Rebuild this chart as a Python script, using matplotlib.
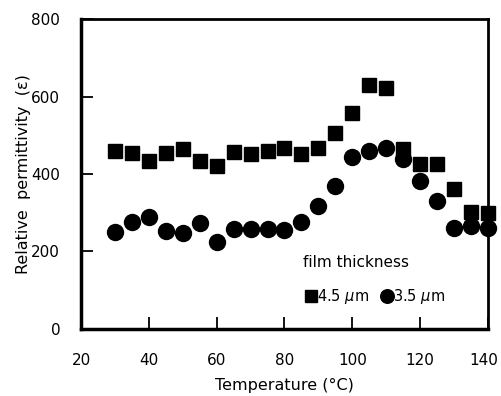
import numpy as np
import matplotlib.pyplot as plt
import matplotlib.transforms as mtransforms

temp = [30, 35, 40, 45, 50, 55, 60, 65, 70, 75, 80, 85, 90, 95, 100, 105, 110, 115, 120, 125, 130, 135, 140]

# 4.5 um film
eps_45 = [460, 455, 434, 453, 464, 433, 421, 456, 452, 460, 467, 452, 468, 505, 557, 630, 621, 465, 426, 426, 361, 303, 299]
# 3.5 um film
eps_35 = [250, 275, 290, 252, 248, 273, 225, 257, 257, 257, 255, 275, 318, 369, 445, 460, 466, 440, 383, 330, 260, 267, 260]

plt.rcParams['font.family'] = ['DejaVu Sans']

fig = plt.figure(figsize=(5.01, 3.96), dpi=100)
ax = fig.add_axes([0.1617, 0.1692, 0.8123, 0.7828])

ax.plot(temp, eps_45, 's', color='black', markersize=10.5, label='4.5 $\\mu$m', clip_on=False, zorder=3)
ax.plot(temp, eps_35, 'o', color='black', markersize=11.5, label='3.5 $\\mu$m', clip_on=False, zorder=3)

ax.set_xlim(20, 140)
ax.set_ylim(0, 800)
ax.set_xticks([20, 40, 60, 80, 100, 120, 140])
ax.set_yticks([0, 200, 400, 600, 800])
ax.tick_params(direction='in', length=8.5, width=1.3, labelsize=11, top=False, right=False)
ax.tick_params(axis='y', pad=15)
ax.tick_params(axis='x', pad=17.5)

# keep the last x label inside the figure
lab = ax.get_xticklabels()[-1]
lab.set_transform(lab.get_transform() + mtransforms.ScaledTranslation(-4 / 100, 0, fig.dpi_scale_trans))

for s in ['left', 'bottom']:
    ax.spines[s].set_linewidth(2.5)
for s in ['top', 'right']:
    ax.spines[s].set_linewidth(2)

ax.set_xlabel('Temperature (°C)', fontsize=11.5, labelpad=7)
ax.set_ylabel('Relative  permittivity  (ε)', fontsize=11.5, labelpad=0)

leg = ax.legend(ncol=2, frameon=False, title='film thickness', loc='upper left',
                bbox_to_anchor=(0.512, 0.28), handletextpad=-0.2, columnspacing=0.6,
                fontsize=10.5, title_fontsize=11, markerscale=0.85, handlelength=1.2)
leg._legend_box.align = 'left'
leg._legend_box.sep = 12

fig.savefig('out.png', dpi=100)
